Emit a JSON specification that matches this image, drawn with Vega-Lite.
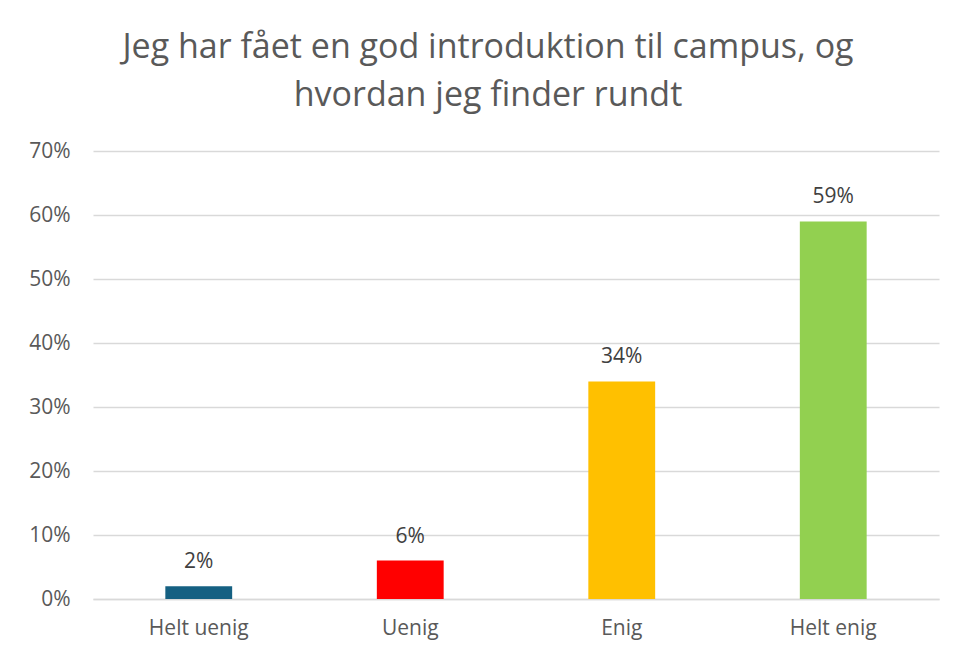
{
  "$schema": "https://vega.github.io/schema/vega-lite/v6.json",
  "autosize": "none",
  "width": 846,
  "height": 448,
  "padding": {"left": 93, "top": 151, "right": 17, "bottom": 59},
  "background": "white",
  "title": {
    "text": ["Jeg har fået en god introduktion til campus, og", "hvordan jeg finder rundt"],
    "font": "Open Sans",
    "fontSize": 34,
    "fontWeight": "normal",
    "color": "#595959",
    "lineHeight": 48,
    "anchor": "middle",
    "dx": -28,
    "offset": 27
  },
  "data": {
    "values": [
      {"svar": "Helt uenig", "andel": 0.02},
      {"svar": "Uenig", "andel": 0.06},
      {"svar": "Enig", "andel": 0.34},
      {"svar": "Helt enig", "andel": 0.59}
    ]
  },
  "config": {
    "view": {"stroke": null},
    "font": "Open Sans"
  },
  "encoding": {
    "x": {
      "field": "svar",
      "type": "nominal",
      "sort": null,
      "scale": {"paddingInner": 0.684, "paddingOuter": 0.342},
      "axis": {
        "title": null,
        "labelAngle": 0,
        "labelFontSize": 21,
        "labelColor": "#595959",
        "labelPadding": 18,
        "ticks": false,
        "domainColor": "#d9d9d9",
        "domainWidth": 1.5
      }
    },
    "y": {
      "field": "andel",
      "type": "quantitative",
      "scale": {"domain": [0, 0.7]},
      "axis": {
        "title": null,
        "format": ".0%",
        "values": [0, 0.1, 0.2, 0.3, 0.4, 0.5, 0.6, 0.7],
        "labelOverlap": false,
        "labelFontSize": 21,
        "labelColor": "#595959",
        "labelPadding": 23,
        "ticks": false,
        "domain": false,
        "gridColor": "#d9d9d9",
        "gridWidth": 1.3
      }
    }
  },
  "layer": [
    {
      "mark": {"type": "bar"},
      "encoding": {
        "color": {
          "field": "svar",
          "type": "nominal",
          "legend": null,
          "scale": {
            "domain": ["Helt uenig", "Uenig", "Enig", "Helt enig"],
            "range": ["#156082", "#ff0000", "#ffc000", "#92d050"]
          }
        }
      }
    },
    {
      "mark": {"type": "text", "dy": -24, "fontSize": 21, "color": "#404040"},
      "encoding": {
        "text": {"field": "andel", "type": "quantitative", "format": ".0%"}
      }
    }
  ]
}
